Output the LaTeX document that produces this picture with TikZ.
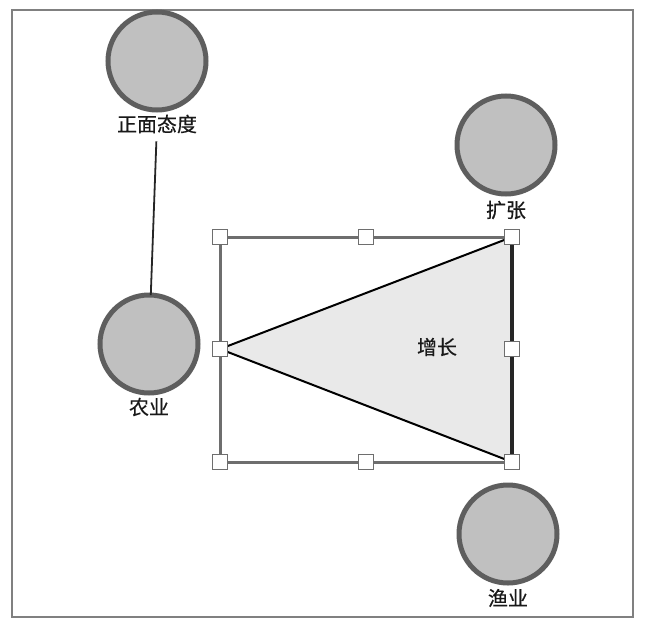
\documentclass[tikz,border=0pt]{standalone}
\usepackage{fontspec}
\setmainfont{Noto Sans CJK SC}[FakeBold=0.4]
\usetikzlibrary{positioning}
\definecolor{ballfill}{HTML}{C0C0C0}
\definecolor{ringgray}{HTML}{5E5E5E}
\definecolor{boxgray}{HTML}{6E6E6E}
\definecolor{wedgefill}{HTML}{E9E9E9}
\newcommand{\tagfont}{\fontsize{20}{24}\selectfont}

\begin{document}
\begin{tikzpicture}[x=1pt, y=-1pt,
    ball/.style={circle, draw=ringgray, fill=ballfill, line width=5pt, minimum size=98pt, inner sep=0pt, outer sep=0pt},
    tag/.style={font=\tagfont, text=black!90, inner sep=1pt},
    handle/.style={draw=boxgray, fill=white, line width=1.4pt, minimum size=15pt, inner sep=0pt},
    link/.style={draw=black!85, line width=1.8pt, shorten <=7pt}]
  \useasboundingbox (0,0) rectangle (650,632);
  \draw [draw=black!50, line width=1.5pt] (12,10) rectangle (633,617);

  \node [ball] (att) at (157,61) {};
  \node [tag, below=14pt of att, anchor=center] (att-l) {正面态度};
  \node [ball] (agr) at (149,344) {};
  \node [tag, below=14pt of agr, anchor=center] (agr-l) {农业};
  \node [ball] (exp) at (506,145) {};
  \node [tag, below=16pt of exp, anchor=center] (exp-l) {扩张};
  \node [ball] (fis) at (508,534) {};
  \node [tag, below=15pt of fis, anchor=center] (fis-l) {渔业};
  \draw [link] (att-l) -- (agr);

  \coordinate (nw) at (220,237);
  \coordinate (n) at (366,237);
  \coordinate (ne) at (512,237);
  \coordinate (w) at (220,349);
  \coordinate (e) at (512,349);
  \coordinate (sw) at (220,462);
  \coordinate (s) at (366,462);
  \coordinate (se) at (512,462);
  \draw [draw=boxgray, line width=3pt] (nw) rectangle (se);
  \filldraw [fill=wedgefill, draw=black, line width=2pt, line join=round] (w) -- (ne) -- (se) -- cycle;
  \draw [draw=black!85, line width=3.5pt] (ne) -- (se);
  \node [tag] (grow) at (437,347) {增长};
  \foreach \p in {nw,n,ne,w,e,sw,s,se}
    \node [handle] (h-\p) at (\p) {};
\end{tikzpicture}
\end{document}
